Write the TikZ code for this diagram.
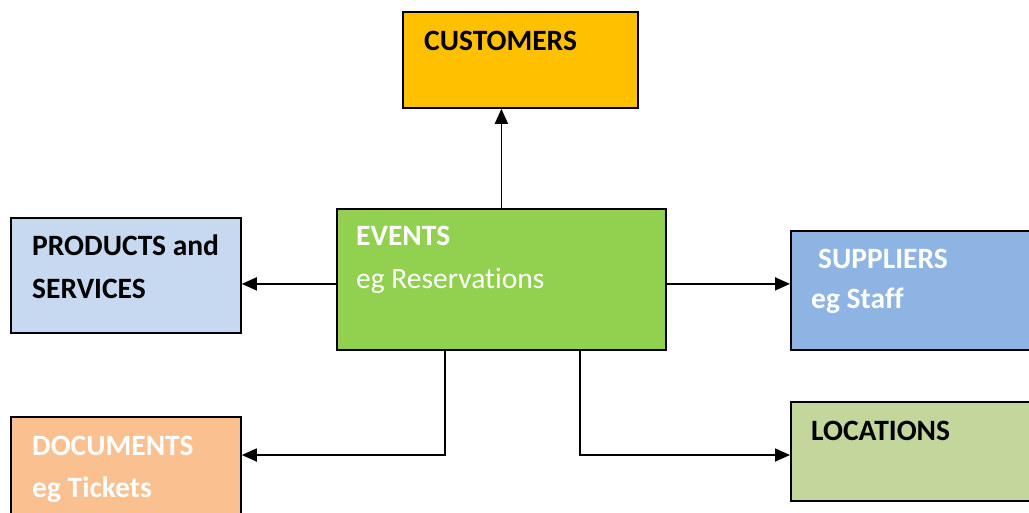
\documentclass[tikz,border=0pt]{standalone}
\usepackage{fontspec}
\setmainfont[Ligatures=NoCommon]{Carlito}
\usetikzlibrary{arrows.meta}
\definecolor{custfill}{HTML}{FFC000}
\definecolor{eventfill}{HTML}{92D050}
\definecolor{prodfill}{HTML}{C6D9F1}
\definecolor{suppfill}{HTML}{8DB4E2}
\definecolor{docfill}{HTML}{FAC090}
\definecolor{locfill}{HTML}{C3D69B}
\begin{document}
\begin{tikzpicture}[x=1pt,y=-1pt,
  entity/.style={draw=black, line width=1.8pt, inner sep=0pt, anchor=north west},
  lbl/.style={anchor=base west, inner sep=0pt, font=\fontsize{29.5}{42}\selectfont},
  conn/.style={line width=1.8pt, -{Triangle[length=15pt,width=13pt]}}]
\useasboundingbox (0,0) rectangle (1029,512);
\clip (0,0) rectangle (1029,512);
\fill[white] (0,0) rectangle (1029,512);

% boxes
\node[entity, fill=custfill, minimum width=235pt, minimum height=96pt] (customers) at (402,11) {};
\node[entity, fill=eventfill, minimum width=329pt, minimum height=141pt] (events) at (336,208) {};
\node[entity, fill=prodfill, minimum width=230pt, minimum height=115pt] (products) at (10,217) {};
\node[entity, fill=suppfill, minimum width=260pt, minimum height=119pt] (suppliers) at (790,230) {};
\node[entity, fill=docfill, minimum width=230pt, minimum height=130pt] (documents) at (10,416) {};
\node[entity, fill=locfill, minimum width=260pt, minimum height=99pt] (locations) at (790,401) {};

% labels
\node[lbl] (tcust) at (424,50) {\bfseries CUSTOMERS};
\node[lbl, text=white] (tevent) at (356,245) {\bfseries EVENTS};
\node[lbl, text=white] (tevent2) at (356,288) {eg Reservations};
\node[lbl] (tprod) at (32,255) {\bfseries PRODUCTS and};
\node[lbl] (tprod2) at (32,298) {\bfseries SERVICES};
\node[lbl, text=white] (tsupp) at (818,268) {\bfseries SUPPLIERS};
\node[lbl, text=white] (tsupp2) at (811,308) {\bfseries eg Staff};
\node[lbl, text=white] (tdoc) at (32,455) {\bfseries DOCUMENTS};
\node[lbl, text=white] (tdoc2) at (32,497) {\bfseries eg Tickets};
\node[lbl] (tloc) at (811,440) {\bfseries LOCATIONS};

% connectors
\coordinate (dbend) at (445,455);
\coordinate (lbend) at (580,455);
\draw[conn] (events.north) -- (events.north |- customers.south);
\draw[conn] ([yshift=-4.5pt]events.west) -- ([yshift=-4.5pt]events.west -| products.east);
\draw[conn] ([yshift=-4.5pt]events.east) -- ([yshift=-4.5pt]events.east -| suppliers.west);
\draw[conn] (events.south -| dbend) -- (dbend) -- (dbend -| documents.east);
\draw[conn] (events.south -| lbend) -- (lbend) -- (lbend -| locations.west);
\end{tikzpicture}
\end{document}
